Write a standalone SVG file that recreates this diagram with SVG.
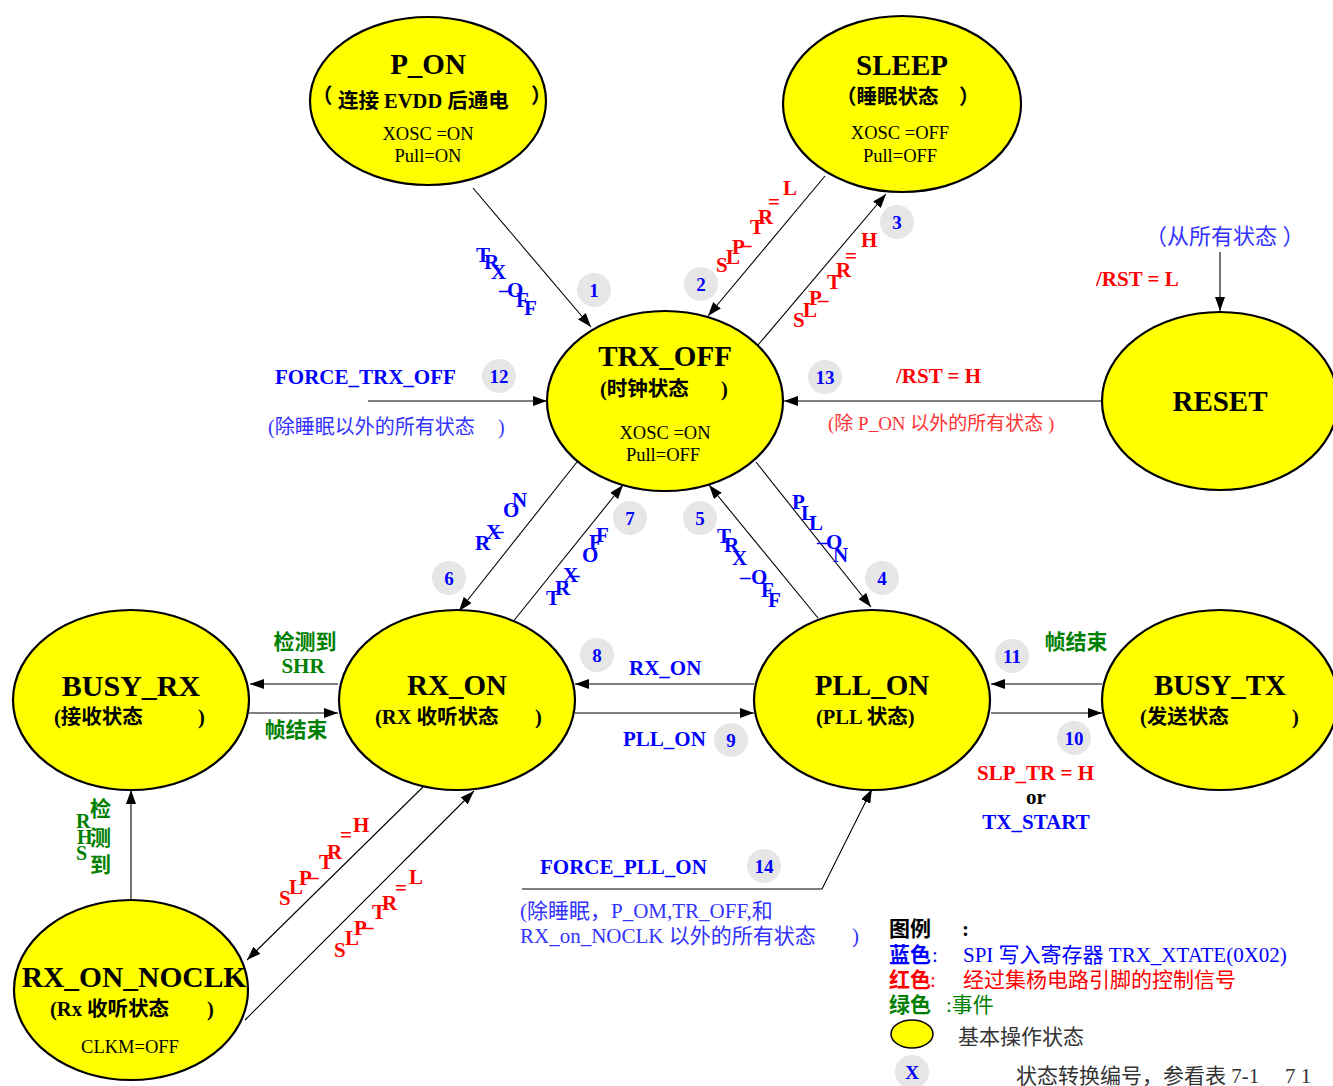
<svg xmlns="http://www.w3.org/2000/svg" width="1333" height="1086" viewBox="0 0 1333 1086">
<defs>
<marker id="ah" viewBox="0 0 14 10" refX="14" refY="5" markerWidth="14" markerHeight="10" markerUnits="userSpaceOnUse" orient="auto">
<path d="M0,0 L14,5 L0,10 z" fill="#000"/>
</marker>
<style>
.st{fill:#ffff00;stroke:#000;stroke-width:2.2}
.tt{font-family:"Liberation Serif","Noto Sans CJK SC",serif;font-weight:bold;font-size:29px;text-anchor:middle;fill:#000}
.sub{font-family:"Liberation Serif","Noto Sans CJK SC",serif;font-weight:bold;font-size:20.5px;fill:#000}
.sm{font-family:"Liberation Serif","Noto Sans CJK SC",serif;font-size:18.5px;text-anchor:middle;fill:#000}
.cn{fill:none;stroke:#000;stroke-width:1.1}
.bd{fill:#e6e6e6}
.bn{font-family:"Liberation Serif",serif;font-weight:bold;font-size:19px;text-anchor:middle;fill:#0000ff}
.lb{font-family:"Liberation Serif","Noto Sans CJK SC",serif;font-weight:bold;font-size:21px}
.sg{font-family:"Liberation Serif",serif;font-weight:bold;font-size:21px}
.lr{font-family:"Liberation Serif","Noto Sans CJK SC",serif;font-size:20px}
.lg{font-family:"Liberation Serif","Noto Sans CJK SC",serif;font-size:21px}
.bl{fill:#0000ff}
.rd{fill:#ff0000}
.gr{fill:#008000}
.bl2{fill:#3333ff}
.rd2{fill:#ff3333}
</style>
</defs>

<g id="connectors">
<line class="cn" x1="473" y1="188" x2="591" y2="327" marker-end="url(#ah)"/>
<line class="cn" x1="825" y1="176" x2="708" y2="316" marker-end="url(#ah)"/>
<line class="cn" x1="758" y1="345" x2="886" y2="194" marker-end="url(#ah)"/>
<line class="cn" x1="368" y1="401" x2="547" y2="401" marker-end="url(#ah)"/>
<line class="cn" x1="1102" y1="401" x2="784" y2="401" marker-end="url(#ah)"/>
<line class="cn" x1="1220" y1="252" x2="1220" y2="311" marker-end="url(#ah)"/>
<line class="cn" x1="577" y1="462" x2="459" y2="611" marker-end="url(#ah)"/>
<line class="cn" x1="512" y1="623" x2="623" y2="485" marker-end="url(#ah)"/>
<line class="cn" x1="818" y1="618" x2="709" y2="485" marker-end="url(#ah)"/>
<line class="cn" x1="756" y1="462" x2="871" y2="607" marker-end="url(#ah)"/>
<line class="cn" x1="338" y1="684" x2="250" y2="684" marker-end="url(#ah)"/>
<line class="cn" x1="249" y1="713" x2="338" y2="713" marker-end="url(#ah)"/>
<line class="cn" x1="754" y1="684" x2="575" y2="684" marker-end="url(#ah)"/>
<line class="cn" x1="575" y1="713" x2="754" y2="713" marker-end="url(#ah)"/>
<line class="cn" x1="1102" y1="684" x2="991" y2="684" marker-end="url(#ah)"/>
<line class="cn" x1="991" y1="713" x2="1102" y2="713" marker-end="url(#ah)"/>
<line class="cn" x1="131" y1="900" x2="131" y2="790" marker-end="url(#ah)"/>
<line class="cn" x1="423" y1="787" x2="247" y2="960" marker-end="url(#ah)"/>
<line class="cn" x1="245" y1="1020" x2="474" y2="791" marker-end="url(#ah)"/>
<polyline class="cn" points="522,889 822,889 872,789" marker-end="url(#ah)"/>
</g>

<g id="P_ON">
<ellipse class="st" cx="428" cy="101" rx="118" ry="84"/>
<text class="tt" x="428" y="74">P_ON</text>
<text class="sub" x="312" y="103">（</text>
<text class="sub" x="338" y="108">连接 EVDD 后通电</text>
<text class="sub" x="531" y="103">）</text>
<text class="sm" x="428" y="140">XOSC =ON</text>
<text class="sm" x="428" y="162">Pull=ON</text>
</g>

<g id="SLEEP">
<ellipse class="st" cx="902" cy="104" rx="119" ry="88"/>
<text class="tt" x="902" y="75">SLEEP</text>
<text class="sub" x="836" y="104">（睡眠状态</text>
<text class="sub" x="959" y="104">）</text>
<text class="sm" x="900" y="139">XOSC =OFF</text>
<text class="sm" x="900" y="162">Pull=OFF</text>
</g>

<g id="TRX_OFF">
<ellipse class="st" cx="665" cy="401" rx="118" ry="90"/>
<text class="tt" x="665" y="366">TRX_OFF</text>
<text class="sub" x="600" y="396">(时钟状态</text>
<text class="sub" x="721" y="396">)</text>
<text class="sm" x="665" y="439">XOSC =ON</text>
<text class="sm" x="663" y="461">Pull=OFF</text>
</g>

<g id="RESET">
<ellipse class="st" cx="1220" cy="401" rx="118" ry="89"/>
<text class="tt" x="1220" y="411">RESET</text>
</g>

<g id="BUSY_RX">
<ellipse class="st" cx="131" cy="700" rx="118" ry="90"/>
<text class="tt" x="131" y="696" style="font-size:30px">BUSY_RX</text>
<text class="sub" x="54" y="724">(接收状态</text>
<text class="sub" x="198" y="724">)</text>
</g>

<g id="RX_ON">
<ellipse class="st" cx="457" cy="700" rx="118" ry="90"/>
<text class="tt" x="457" y="695">RX_ON</text>
<text class="sub" x="375" y="724">(RX 收听状态</text>
<text class="sub" x="535" y="724">)</text>
</g>

<g id="PLL_ON">
<ellipse class="st" cx="872" cy="700" rx="118" ry="90"/>
<text class="tt" x="872" y="695">PLL_ON</text>
<text class="sub" x="816" y="724">(PLL  状态)</text>
</g>

<g id="BUSY_TX">
<ellipse class="st" cx="1220" cy="700" rx="118" ry="90"/>
<text class="tt" x="1220" y="695">BUSY_TX</text>
<text class="sub" x="1140" y="724">(发送状态</text>
<text class="sub" x="1292" y="724">)</text>
</g>

<g id="RX_ON_NOCLK">
<ellipse class="st" cx="131" cy="990" rx="117" ry="90"/>
<text class="tt" x="134" y="987" style="font-size:29.5px">RX_ON_NOCLK</text>
<text class="sub" x="50" y="1016">(Rx  收听状态</text>
<text class="sub" x="207" y="1016">)</text>
<text class="sm" x="130" y="1053">CLKM=OFF</text>
</g>

<g id="badges">
<circle class="bd" cx="594" cy="290" r="17"/><text class="bn" x="594" y="297">1</text>
<circle class="bd" cx="701" cy="284" r="17"/><text class="bn" x="701" y="291">2</text>
<circle class="bd" cx="897" cy="222" r="17"/><text class="bn" x="897" y="229">3</text>
<circle class="bd" cx="882" cy="578" r="17"/><text class="bn" x="882" y="585">4</text>
<circle class="bd" cx="700" cy="518" r="17"/><text class="bn" x="700" y="525">5</text>
<circle class="bd" cx="449" cy="578" r="17"/><text class="bn" x="449" y="585">6</text>
<circle class="bd" cx="630" cy="518" r="17"/><text class="bn" x="630" y="525">7</text>
<circle class="bd" cx="597" cy="655" r="17"/><text class="bn" x="597" y="662">8</text>
<circle class="bd" cx="731" cy="740" r="17"/><text class="bn" x="731" y="747">9</text>
<circle class="bd" cx="1074" cy="738" r="17"/><text class="bn" x="1074" y="745">10</text>
<circle class="bd" cx="1012" cy="656" r="17"/><text class="bn" x="1012" y="663">11</text>
<circle class="bd" cx="499" cy="376" r="17"/><text class="bn" x="499" y="383">12</text>
<circle class="bd" cx="825" cy="377" r="17"/><text class="bn" x="825" y="384">13</text>
<circle class="bd" cx="764" cy="866" r="17"/><text class="bn" x="764" y="873">14</text>
</g>

<g id="labels">
<text class="sg bl" x="476 484 491 499 507 516 524" y="262 269 279 289 297 307 315">TRX_OFF</text>
<text class="sg rd" x="716 726 732 741 750 758 768 783" y="272 264 254 244 234 224 209 195">SLP_TR=L</text>
<text class="sg rd" x="793 803 809 818 827 836 845 861" y="327 317 305 299 289 277 263 247">SLP_TR=H</text>
<text class="sg bl" x="475 486 493 503 512" y="550 539 530 517 507">RX_ON</text>
<text class="sg bl" x="546 555 563 569 582 589 596" y="605 595 582 574 562 549 542">TRX_OFF</text>
<text class="sg bl" x="717 724 732 740 751 761 768" y="543 552 565 576 584 597 607">TRX_OFF</text>
<text class="sg bl" x="792 801 809 817 826 833" y="509 520 530 541 549 562">PLL_ON</text>
<text class="sg rd" x="279 289 299 308 319 327 340 353" y="905 894 885 876 869 859 842 832">SLP_TR=H</text>
<text class="sg rd" x="334 345 354 363 372 382 395 409" y="957 945 935 926 919 910 895 884">SLP_TR=L</text>

<text class="lb bl" x="275" y="384">FORCE_TRX_OFF</text>
<text class="lr bl2" x="268" y="434">(除睡眠以外的所有状态</text>
<text class="lr bl2" x="498" y="434">)</text>
<text class="lb rd" x="896" y="383">/RST = H</text>
<text class="lr rd2" x="828" y="430" style="font-size:19px">(除 P_ON 以外的所有状态 )</text>
<text class="lr bl2" x="1145" y="244" style="font-size:22px">（从所有状态 ）</text>
<text class="lb rd" x="1096" y="286">/RST = L</text>

<text class="lb gr" x="305" y="649" text-anchor="middle">检测到</text>
<text class="lb gr" x="303" y="673" text-anchor="middle">SHR</text>
<text class="lb gr" x="296" y="737" text-anchor="middle">帧结束</text>
<text class="lb bl" x="629" y="675">RX_ON</text>
<text class="lb bl" x="623" y="746">PLL_ON</text>
<text class="lb gr" x="1076" y="649" text-anchor="middle">帧结束</text>
<text class="lb rd" x="977" y="780">SLP_TR = H</text>
<text class="lb" x="1036" y="804" text-anchor="middle">or</text>
<text class="lb bl" x="1036" y="829" text-anchor="middle">TX_START</text>

<text class="lb gr" x="90" y="816">检</text>
<text class="lb gr" x="90" y="845">测</text>
<text class="lb gr" x="90" y="872">到</text>
<text class="lb gr" x="76 77 76" y="828 844 860" style="font-size:20px">RHS</text>

<text class="lb bl" x="540" y="874">FORCE_PLL_ON</text>
<text class="lg bl2" x="520" y="918">(除睡眠，P_OM,TR_OFF,和</text>
<text class="lg bl2" x="520" y="943">RX_on_NOCLK 以外的所有状态</text>
<text class="lg bl2" x="852" y="943">)</text>
</g>

<g id="legend">
<text class="lb" x="889" y="936">图例</text>
<text class="lb" x="962" y="936">:</text>
<text class="lb bl" x="889" y="962">蓝色</text>
<text class="lg bl" x="932" y="962">:</text>
<text class="lg bl" x="963" y="962">SPI 写入寄存器 TRX_XTATE(0X02)</text>
<text class="lb rd" x="889" y="987">红色</text>
<text class="lg rd" x="930" y="987">:</text>
<text class="lg rd" x="963" y="987">经过集杨电路引脚的控制信号</text>
<text class="lb gr" x="889" y="1012">绿色</text>
<text class="lg gr" x="946" y="1012">:事件</text>
<ellipse class="st" cx="912" cy="1034" rx="21" ry="14" style="stroke-width:1.5"/>
<text class="lg" x="958" y="1044" fill="#333">基本操作状态</text>
<circle class="bd" cx="912" cy="1072" r="17"/><text class="bn" x="912" y="1079">X</text>
<text class="lg" x="1016" y="1083" fill="#333">状态转换编号，参看表 7-1</text>
<text class="lg" x="1285" y="1083" fill="#333">7 1</text>
</g>
</svg>
